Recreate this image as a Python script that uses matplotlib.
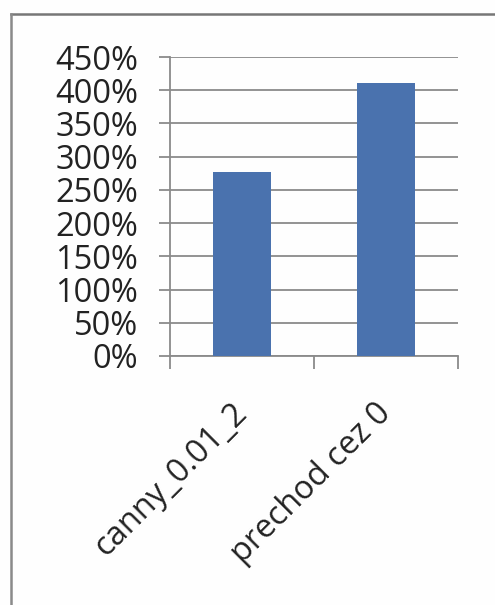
import matplotlib
matplotlib.use("Agg")
import matplotlib.pyplot as plt
from matplotlib.lines import Line2D
from matplotlib.ticker import FuncFormatter, FixedLocator

categories = ["canny_0.01_2", "prechod cez 0"]
values = [2.77, 4.11]
y_ticks = [0, 0.5, 1.0, 1.5, 2.0, 2.5, 3.0, 3.5, 4.0, 4.5]

plt.rcParams["font.family"] = ["Open Sans", "DejaVu Sans"]

W, H = 495, 605
fig = plt.figure(figsize=(W / 100, H / 100), dpi=100)
fig.patch.set_facecolor("#fefefe")

ax = fig.add_axes([170 / W, 1 - 356 / H, (458 - 170) / W, (356 - 57) / H])
ax.set_facecolor("none")

x = list(range(len(categories)))
ax.bar(x, values, width=0.4, color="#4a72ae", zorder=3)

ax.set_xlim(-0.5, len(categories) - 0.5)
ax.set_ylim(0, 4.5)
ax.yaxis.set_major_locator(FixedLocator(y_ticks))
ax.yaxis.set_major_formatter(FuncFormatter(lambda v, _: f"{v * 100:.0f}%"))
ax.grid(axis="y", color="#8a8a8a", linewidth=1.3, zorder=1)

for side in ("top", "right"):
    ax.spines[side].set_visible(False)
for side in ("left", "bottom"):
    ax.spines[side].set_color("#8a8a8a")
    ax.spines[side].set_linewidth(1.3)

ax.tick_params(axis="y", length=8, width=1.3, color="#8a8a8a",
               labelsize=23.5, labelcolor="#222222", pad=15)

# category boundary ticks below the axis
ax.set_xticks(x)
ax.set_xticklabels(categories)
ax.xaxis.set_minor_locator(FixedLocator([-0.5, 0.5, 1.5]))
ax.tick_params(axis="x", which="major", length=0, labelsize=23.5,
               labelcolor="#222222", pad=38)
ax.tick_params(axis="x", which="minor", length=9, width=1.3, color="#8a8a8a")
for lbl in ax.get_xticklabels():
    lbl.set_rotation(45)
    lbl.set_ha("right")
    lbl.set_va("center")
    lbl.set_rotation_mode("anchor")

# outer chart frame
fig.add_artist(Line2D([11 / W, 1.0], [1 - 14 / H, 1 - 14 / H],
                      transform=fig.transFigure, color="#777777", linewidth=1.8))
fig.add_artist(Line2D([11 / W, 11 / W], [1 - 14 / H, 0.0],
                      transform=fig.transFigure, color="#8a8a8a", linewidth=1.8))

fig.savefig("out.png", dpi=100, facecolor=fig.get_facecolor())
